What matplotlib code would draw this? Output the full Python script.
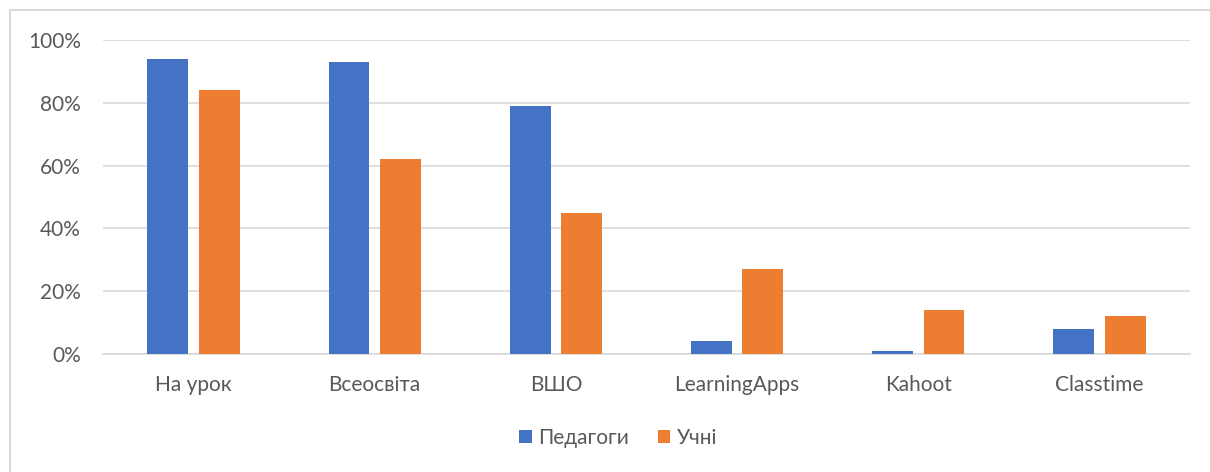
import matplotlib

matplotlib.use("Agg")
import matplotlib.pyplot as plt
import numpy as np
from matplotlib.patches import Rectangle

categories = ["На урок", "Всеосвіта", "ВШО", "LearningApps", "Kahoot", "Classtime"]
teachers = [94, 93, 79, 4, 1, 8]
students = [84, 62, 45, 27, 14, 12]
series_names = ["Педагоги", "Учні"]
y_ticks = [0, 20, 40, 60, 80, 100]

BLUE = "#4472c4"
ORANGE = "#ed7d31"
TEXT = "#595959"
GRID = "#d9d9d9"

plt.rcParams["font.family"] = ["Lato", "DejaVu Sans"]

W, H = 1210, 472
fig = plt.figure(figsize=(W / 100, H / 100), dpi=100)
ax = fig.add_axes([103 / W, 1 - 354 / H, (1190 - 103) / W, (354 - 40) / H])

x = np.arange(len(categories))
width = 0.226
offset = 0.142
ax.bar(x - offset, teachers, width, color=BLUE, label=series_names[0], zorder=3)
ax.bar(x + offset, students, width, color=ORANGE, label=series_names[1], zorder=3)

ax.set_xlim(-0.5, len(categories) - 0.5)
ax.set_ylim(0, 100)
ax.set_yticks(y_ticks)
ax.set_yticklabels([f"{v}%" for v in y_ticks])
ax.set_xticks(x)
ax.set_xticklabels(categories)
ax.yaxis.grid(True, color=GRID, linewidth=1.2, zorder=0)
ax.tick_params(axis="both", length=0, labelsize=15, labelcolor=TEXT)
ax.tick_params(axis="y", pad=16)
ax.tick_params(axis="x", pad=15)
for side in ("top", "right", "left"):
    ax.spines[side].set_visible(False)
ax.spines["bottom"].set_color(GRID)
ax.spines["bottom"].set_linewidth(1.2)

leg = fig.legend(
    loc="center",
    bbox_to_anchor=(618 / W, 1 - 438 / H),
    ncol=2,
    frameon=False,
    fontsize=15,
    handlelength=0.6,
    handleheight=0.6,
    handletextpad=0.3,
    columnspacing=1.4,
)
for t in leg.get_texts():
    t.set_color(TEXT)

# outer chart border (clipped at the right and bottom edges)
fig.add_artist(
    Rectangle((10 / W, -0.1), 1.2, 1 - 10 / H + 0.1, transform=fig.transFigure,
              fill=False, edgecolor=GRID, linewidth=1.5)
)

fig.savefig("out.png", dpi=100)
